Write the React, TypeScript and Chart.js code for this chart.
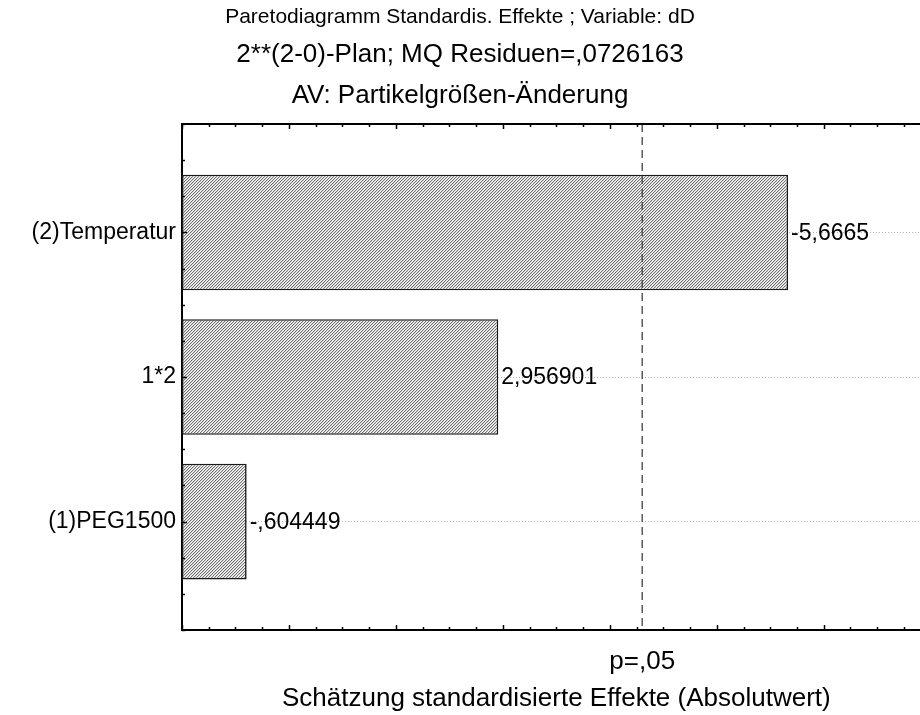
import React, { useEffect, useRef } from "react";
import { Chart, registerables } from "chart.js";

Chart.register(...registerables);

const titleLine = "Paretodiagramm Standardis. Effekte ; Variable: dD";
const subtitleLines = ["2**(2-0)-Plan; MQ Residuen=,0726163", "AV: Partikelgrößen-Änderung"];
const xAxisTitle = "Schätzung standardisierte Effekte (Absolutwert)";

const categories = ["(2)Temperatur", "1*2", "(1)PEG1500"];
const effects = [5.6665, 2.956901, 0.604449];
const valueLabels = ["-5,6665", "2,956901", "-,604449"];

const criticalValue = 4.302653;
const criticalLabel = "p=,05";

const xMajorTicks = [0, 1, 2, 3, 4, 5, 6, 7];
const xMinorStep = 0.25;
const xVisibleMax = 6.9;
const yMin = -0.75;
const yMax = 2.75;
const yMinorStep = 0.25;

const FONT = "'Liberation Sans', Arial, Helvetica, sans-serif";

function makeHatch(): CanvasPattern | string {
  const c = document.createElement("canvas");
  c.width = 3;
  c.height = 3;
  const g = c.getContext("2d");
  if (!g) return "#b8b8b8";
  g.fillStyle = "#ffffff";
  g.fillRect(0, 0, 3, 3);
  // main diagonal stripe "/"
  g.fillStyle = "#6e6e6e";
  g.fillRect(2, 0, 1, 1);
  g.fillRect(1, 1, 1, 1);
  g.fillRect(0, 2, 1, 1);
  // soft neighbour stripe
  g.fillStyle = "#d2d2d2";
  g.fillRect(0, 0, 1, 1);
  g.fillRect(2, 1, 1, 1);
  g.fillRect(1, 2, 1, 1);
  const p = g.createPattern(c, "repeat");
  return p || "#b8b8b8";
}

const framePlugin = {
  id: "paretoFrame",
  afterDatasetsDraw(chart: any) {
    const { ctx, chartArea } = chart;
    const xs = chart.scales.x;
    const ys = chart.scales.y;
    ctx.save();
    // value labels
    ctx.font = `23px ${FONT}`;
    ctx.fillStyle = "#000";
    ctx.textAlign = "left";
    ctx.textBaseline = "middle";
    const meta = chart.getDatasetMeta(0);
    meta.data.forEach((el: any, i: number) => {
      ctx.fillText(valueLabels[i], el.x + 3, el.y + 1);
    });
    // critical dashed line
    const cx = xs.getPixelForValue(criticalValue);
    ctx.strokeStyle = "#404040";
    ctx.lineWidth = 1.3;
    ctx.setLineDash([8, 5]);
    ctx.beginPath();
    ctx.moveTo(cx, chartArea.top);
    ctx.lineTo(cx, chartArea.bottom);
    ctx.stroke();
    ctx.setLineDash([]);
    // top border
    ctx.strokeStyle = "#000";
    ctx.lineWidth = 2;
    ctx.beginPath();
    ctx.moveTo(chartArea.left - 1, chartArea.top);
    ctx.lineTo(chartArea.right + 20, chartArea.top);
    ctx.stroke();
    // x ticks (inward, top and bottom)
    ctx.lineWidth = 1.5;
    const xmin = xMajorTicks[0];
    const xmax = xMajorTicks[xMajorTicks.length - 1];
    for (let v = xmin; v <= xmax + 1e-9; v += xMinorStep) {
      const px = Math.round(xs.getPixelForValue(v)) + 0.5;
      const major = xMajorTicks.some((m) => Math.abs(m - v) < 1e-9);
      const len = major ? 5 : 3;
      ctx.beginPath();
      ctx.moveTo(px, chartArea.top);
      ctx.lineTo(px, chartArea.top + len);
      ctx.moveTo(px, chartArea.bottom);
      ctx.lineTo(px, chartArea.bottom - len);
      ctx.stroke();
    }
    // y ticks (inward, left)
    for (let v = yMin; v <= yMax + 1e-9; v += yMinorStep) {
      const py = Math.round(ys.getPixelForValue(v)) + 0.5;
      const major = Math.abs(v - Math.round(v)) < 1e-9;
      const len = major ? 5 : 3;
      ctx.beginPath();
      ctx.moveTo(chartArea.left, py);
      ctx.lineTo(chartArea.left + len, py);
      ctx.stroke();
    }
    // p label
    ctx.font = `26px ${FONT}`;
    ctx.textAlign = "center";
    ctx.textBaseline = "middle";
    ctx.fillStyle = "#000";
    ctx.fillText(criticalLabel, cx, chartArea.bottom + 32);
    // axis title, centred on the full 0..7 axis
    const tx = (xs.getPixelForValue(xMajorTicks[0]) + xs.getPixelForValue(xmax)) / 2;
    ctx.fillText(xAxisTitle, tx, chartArea.bottom + 69);
    ctx.restore();
  },
};

export default function App() {
  const ref = useRef<HTMLCanvasElement>(null);
  useEffect(() => {
    const canvas = ref.current;
    if (!canvas) return;
    const hatch = makeHatch();
    const chart = new Chart(canvas, {
      type: "bar",
      data: {
        datasets: [
          {
            data: effects.map((v, i) => ({ x: v, y: i })),
            backgroundColor: hatch as any,
            borderColor: "#1a1a1a",
            borderWidth: 1.6,
            borderSkipped: false,
            categoryPercentage: 0.8,
            barPercentage: 1.0,
          },
        ],
      },
      options: {
        indexAxis: "y",
        responsive: false,
        animation: false,
        events: [],
        layout: { padding: { left: 0, right: 0, top: 0, bottom: 0 } },
        plugins: {
          legend: { display: false },
          tooltip: { enabled: false },
          title: {
            display: true,
            text: titleLine,
            color: "#000",
            font: { family: FONT, size: 21, weight: "normal", lineHeight: 1.2 },
            padding: { top: 5, bottom: 0 },
          },
          subtitle: {
            display: true,
            text: subtitleLines,
            color: "#000",
            font: { family: FONT, size: 26, weight: "normal", lineHeight: 1.58 },
            padding: { top: 4.5, bottom: 7.2 },
          },
        },
        scales: {
          x: {
            type: "linear",
            min: xMajorTicks[0],
            max: xVisibleMax,
            ticks: { display: false },
            grid: { display: false, drawTicks: false },
            border: { display: true, color: "#000", width: 2 },
            title: { display: false, text: xAxisTitle },
            afterFit: (scale: any) => {
              scale.height = 85;
            },
          },
          y: {
            type: "linear",
            reverse: true,
            offset: false,
            min: yMin,
            max: yMax,
            afterBuildTicks: (scale: any) => {
              scale.ticks = categories.map((_, i) => ({ value: i }));
            },
            ticks: {
              color: "#000",
              font: { family: FONT, size: 23 },
              padding: 6,
              callback: (v: any) => categories[Math.round(Number(v))] ?? "",
            },
            grid: {
              display: true,
              offset: false,
              drawTicks: false,
              color: "#b4b4b4",
              lineWidth: 1,
            },
            border: { display: true, color: "#000", width: 2, dash: [1, 2] },
            afterFit: (scale: any) => {
              scale.width = 182;
            },
          },
        },
      },
      plugins: [framePlugin],
    });
    return () => chart.destroy();
  }, []);
  return (
    <div style={{ position: "fixed", left: 0, top: 0, width: 920, height: 715, overflow: "hidden", background: "#fff" }}>
      <canvas ref={ref} width={920} height={715} style={{ display: "block", width: 920, height: 715 }} />
    </div>
  );
}
